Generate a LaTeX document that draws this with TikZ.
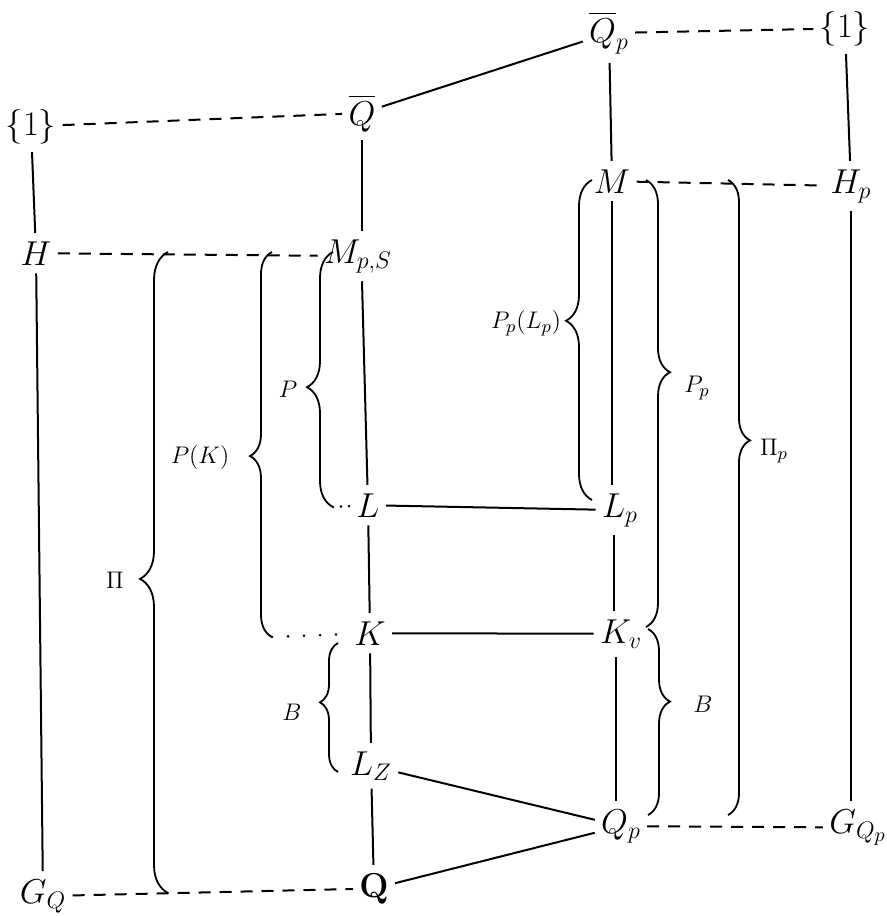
\documentclass[tikz,border=0pt]{standalone}
\usepackage{amsmath}
\usetikzlibrary{decorations.pathreplacing}
\DeclareMathSizes{12}{12}{9}{7}

\tikzset{
  obj/.style={anchor=base, inner xsep=3pt, inner ysep=4pt,
              font=\fontsize{17.28}{20}\selectfont},
  lab/.style={inner sep=1pt, font=\fontsize{12}{14}\selectfont},
  link/.style={line width=1pt},
  dashlink/.style={line width=1pt, dash pattern=on 6pt off 4.5pt},
  dots/.style={line width=1.4pt, line cap=round, dash pattern=on 0.01pt off #1},
  lbrace/.style={line width=0.9pt, decorate,
                 decoration={brace, amplitude=#1}},
}

\begin{document}
\begin{tikzpicture}[x=0.5pt, y=-0.5pt]
\useasboundingbox (0,0) rectangle (887,916);

% objects of the lattice
\node[obj] (oneL)  at (31,135)  {$\{1\}$};
\node[obj] (Qbar)  at (362,125) {$\overline{Q}$};
\node[obj] (Qbarp) at (609,42)  {$\overline{Q}_p$};
\node[obj] (oneR)  at (845,37)  {$\{1\}$};
\node[obj] (H)     at (36,265)  {$H$};
\node[obj] (Mps)   at (358,263) {$M_{p,S}$};
\node[obj] (M)     at (612,193) {$M$};
\node[obj] (Hp)    at (851,193) {$H_p$};
\node[obj] (L)     at (368,517) {$L$};
\node[obj] (Lp)    at (620,517) {$L_p$};
\node[obj] (K)     at (370,645) {$K$};
\node[obj] (Kv)    at (621,643) {$K_v$};
\node[obj] (LZ)    at (371,775) {$L_Z$};
\node[obj] (Qp)    at (621,833) {$Q_p$};
\node[obj] (GQp)   at (858,833) {$G_{Q_p}$};
\node[obj] (GQ)    at (43,903)  {$G_Q$};
\node[obj] (Qb)    at (374,897) {$\mathbf{Q}$};

% inclusions
\draw[link] (oneL) -- (H);
\draw[link] (H) -- (GQ);
\draw[link] (Qbar) -- (Mps.north -| Qbar);
\draw[link] (Mps.south -| Qbar) -- (L);
\draw[link] (L) -- (K);
\draw[link] (K) -- (LZ);
\draw[link] (LZ) -- (Qb);
\draw[link] (Qbarp) -- (M);
\draw[link] (M) -- (Lp.north -| M);
\draw[link] ([xshift=-3pt]Lp.south) -- ([xshift=-3.5pt]Kv.north);
\draw[link] ([xshift=-2.5pt]Kv.south) -- ([xshift=-2.5pt]Qp.north);
\draw[link] (oneR) -- (Hp);
\draw[link] (Hp) -- (GQp.north -| Hp);
\draw[link] (Qbar) -- (Qbarp);
\draw[link] (L) -- (Lp);
\draw[link] (K) -- (Kv);
\draw[link] (LZ) -- (Qp);
\draw[link] (Qb) -- (Qp);

% Galois correspondences
\draw[dashlink] (oneL) -- (Qbar);
\draw[dashlink] (Qbarp) -- (oneR);
\draw[dashlink] (H) -- (Mps);
\draw[dashlink] (M) -- (Hp);
\draw[dashlink] (Qp) -- (GQp);
\draw[dashlink] (GQ) -- (Qb);

% brace end points
\coordinate (piB)  at (168,893);
\coordinate (piT)  at (168,252);
\coordinate (pkB)  at (272,637);
\coordinate (pkT)  at (272,252);
\coordinate (pB)   at (333,507);
\coordinate (pT)   at (333,252);
\coordinate (bB)   at (338,772);
\coordinate (bT)   at (338,643);
\coordinate (plB)  at (592,500);
\coordinate (plT)  at (592,180);
\coordinate (ppT)  at (646,180);
\coordinate (ppB)  at (646,627);
\coordinate (brT)  at (648,629);
\coordinate (brB)  at (648,815);
\coordinate (pipT) at (728,180);
\coordinate (pipB) at (728,815);

% braces opening to the left
\draw[lbrace=14pt, decoration={aspect=0.49}] (piB) -- (piT);
\draw[lbrace=11pt, decoration={aspect=0.47}] (pkB) -- (pkT);
\draw[lbrace=13pt, decoration={aspect=0.47}] (pB) -- (pT);
\draw[lbrace=9pt,  decoration={aspect=0.54}] (bB) -- (bT);
\draw[lbrace=13pt, decoration={aspect=0.56}] (plB) -- (plT);
% braces opening to the right
\draw[lbrace=12pt, decoration={aspect=0.43}] (ppT) -- (ppB);
\draw[lbrace=11pt, decoration={aspect=0.39}] (brT) -- (brB);
\draw[lbrace=11pt, decoration={aspect=0.41}] (pipT) -- (pipB);

% dotted leaders from brace ends
\draw[dots=4pt] (pB) -- (L);
\draw[dots=8pt] (pkB) -- (K);

% brace labels
\node[lab] (lPi)  at (115,580) {$\Pi$};
\node[lab] (lPK)  at (200,457) {$P(K)$};
\node[lab] (lP)   at (288,389) {$P$};
\node[lab] (lB)   at (292,712) {$B$};
\node[lab] (lPpL) at (526,323) {$P_p(L_p)$};
\node[lab] (lPp)  at (697,388) {$P_p$};
\node[lab] (lPip) at (774,451) {$\Pi_p$};
\node[lab] (lBr)  at (703,704) {$B$};
\end{tikzpicture}
\end{document}
